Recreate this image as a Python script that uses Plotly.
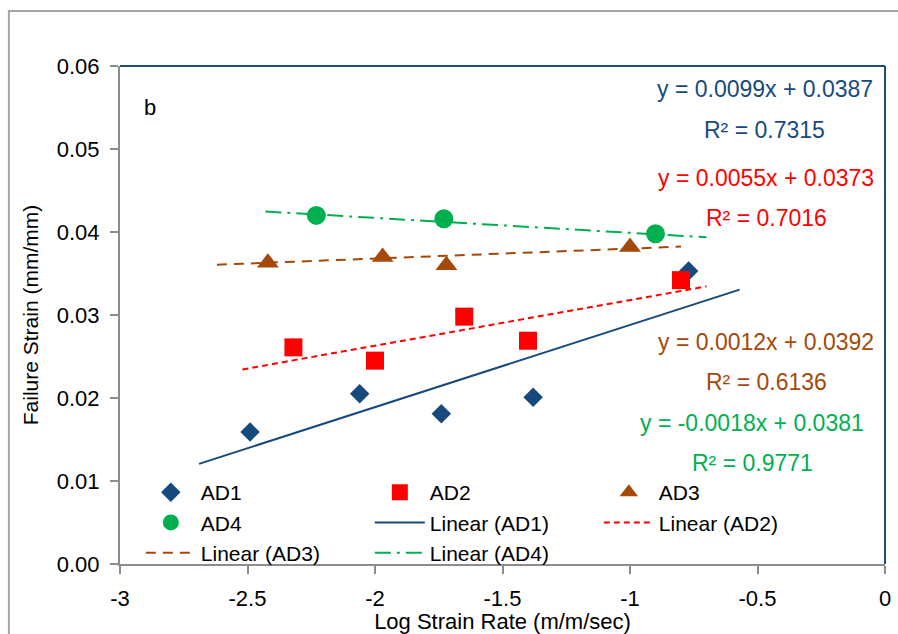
import plotly.graph_objects as go

# ---- data ----
ad1_x = [-2.49, -2.06, -1.74, -1.38, -0.77]
ad1_y = [0.0159, 0.0205, 0.0181, 0.0201, 0.0353]
ad2_x = [-2.32, -2.00, -1.65, -1.40, -0.80]
ad2_y = [0.0261, 0.0245, 0.0298, 0.0269, 0.0342]
ad3_x = [-2.42, -1.97, -1.72, -1.00]
ad3_y = [0.0363, 0.0370, 0.0360, 0.0382]
ad4_x = [-2.23, -1.73, -0.90]
ad4_y = [0.0420, 0.0416, 0.0398]

# trendline equations (as printed on chart) and x extents of the drawn trendlines
slopes = [0.0099, 0.0055, 0.0012, -0.0018]
intercepts = [0.0387, 0.0373, 0.0392, 0.0381]
r2_values = [0.7315, 0.7016, 0.6136, 0.9771]
trend_x0 = [-2.69, -2.52, -2.62, -2.43]
trend_x1 = [-0.57, -0.70, -0.80, -0.70]

names = ["AD1", "AD2", "AD3", "AD4"]
x_ticks = [-3, -2.5, -2, -1.5, -1, -0.5, 0]
y_ticks = [0.00, 0.01, 0.02, 0.03, 0.04, 0.05, 0.06]

colors = ["#174A7C", "#FF0000", "#A5490A", "#00B050"]
symbols = ["diamond", "square", "triangle-up", "circle"]
msizes = [15, 18, 19, 19]
dashes = ["solid", "6px,4px", "10px,7px", "16px,6px,3px,6px"]

FONT = "Arial, Liberation Sans, sans-serif"
FS = 22
W, H = 898, 634
L, R, T, B = 120, 7, 66, 70
PW = W - L - R
PH = H - T - B

xs = [ad1_x, ad2_x, ad3_x, ad4_x]
ys = [ad1_y, ad2_y, ad3_y, ad4_y]

fig = go.Figure()
for i in range(4):
    fig.add_trace(go.Scatter(
        x=xs[i], y=ys[i], mode="markers", name=names[i],
        marker=dict(symbol=symbols[i], size=msizes[i], color=colors[i],
                    line=dict(width=0)),
    ))
for i in range(4):
    x0, x1 = trend_x0[i], trend_x1[i]
    fig.add_trace(go.Scatter(
        x=[x0, x1], y=[slopes[i] * x0 + intercepts[i], slopes[i] * x1 + intercepts[i]],
        mode="lines", name=f"Linear ({names[i]})",
        line=dict(color=colors[i], width=2, dash=dashes[i]),
    ))


def px2paper(px, py):
    return (px - L) / PW, (H - B - py) / PH


annots = []
# (eq center px, eq center py, r2 center px, r2 center py)
label_pos = [(770.5, 89, 770, 130), (771.5, 178, 772, 218),
             (771.5, 342, 772, 382), (756.5, 423, 757, 463)]
for i in range(4):
    s = slopes[i]
    sign = "-" if s < 0 else ""
    eq = f"y = {sign}{abs(s):.4f}x + {intercepts[i]:.4f}"
    r2 = f"R² = {r2_values[i]:.4f}"
    ex, ey, rx, ry = label_pos[i]
    a, b = px2paper(ex, ey)
    annots.append(dict(x=a, y=b, xref="paper", yref="paper", text=eq, showarrow=False,
                       xanchor="center", yanchor="middle",
                       font=dict(family=FONT, size=23, color=colors[i])))
    a, b = px2paper(rx, ry)
    annots.append(dict(x=a, y=b, xref="paper", yref="paper", text=r2, showarrow=False,
                       xanchor="center", yanchor="middle",
                       font=dict(family=FONT, size=23, color=colors[i])))
a, b = px2paper(150, 107)
annots.append(dict(x=a, y=b, xref="paper", yref="paper", text="b", showarrow=False,
                   xanchor="center", yanchor="middle",
                   font=dict(family=FONT, size=FS, color="#000000")))

shapes = []
# outer frame
fx0, fy0 = px2paper(8, 11)
fx1, fy1 = px2paper(W + 20, H + 20)
shapes.append(dict(type="rect", xref="paper", yref="paper", x0=fx0, y0=fy1, x1=fx1, y1=fy0,
                   line=dict(color="#A6A6A6", width=2), fillcolor="rgba(0,0,0,0)", layer="below"))
# top and right blue border of plot area
shapes.append(dict(type="line", xref="paper", yref="paper", x0=0, x1=1, y0=1, y1=1,
                   line=dict(color="#1F4E79", width=2)))
shapes.append(dict(type="line", xref="paper", yref="paper", x0=1, x1=1, y0=0, y1=1,
                   line=dict(color="#1F4E79", width=2)))

lx, ly = px2paper(141, 472)

fig.update_layout(
    width=W, height=H,
    margin=dict(l=L, r=R, t=T, b=B),
    paper_bgcolor="white", plot_bgcolor="white",
    font=dict(family=FONT, size=FS, color="#000000"),
    showlegend=True,
    legend=dict(orientation="h", x=lx, y=ly, xanchor="left", yanchor="top",
                bgcolor="rgba(0,0,0,0)", itemwidth=50, entrywidth=164,
                font=dict(family=FONT, size=21, color="#000000"),
                traceorder="normal", itemclick=False, tracegroupgap=0),
    xaxis=dict(range=[-3, 0], tickvals=x_ticks, ticktext=[str(v) for v in x_ticks],
               showgrid=False, zeroline=False, showline=True, linecolor="#8C8C8C",
               linewidth=2, ticks="outside", ticklen=8, tickcolor="#8C8C8C", tickwidth=2,
               ticklabelstandoff=6,
               tickfont=dict(family=FONT, size=FS, color="#000000"),
               title=dict(text="Log Strain Rate (m/m/sec)", standoff=0,
                          font=dict(family=FONT, size=FS, color="#000000"))),
    yaxis=dict(range=[0, 0.06], tickvals=y_ticks, tickformat=".2f",
               showgrid=False, zeroline=False, showline=True, linecolor="#8C8C8C",
               linewidth=2, ticks="outside", ticklen=8, tickcolor="#8C8C8C", tickwidth=2,
               ticklabelstandoff=6,
               tickfont=dict(family=FONT, size=FS, color="#000000"),
               title=dict(text="Failure Strain (mm/mm)", standoff=12,
                          font=dict(family=FONT, size=21, color="#000000"))),
    annotations=annots,
    shapes=shapes,
)

fig.write_html("out.html")
